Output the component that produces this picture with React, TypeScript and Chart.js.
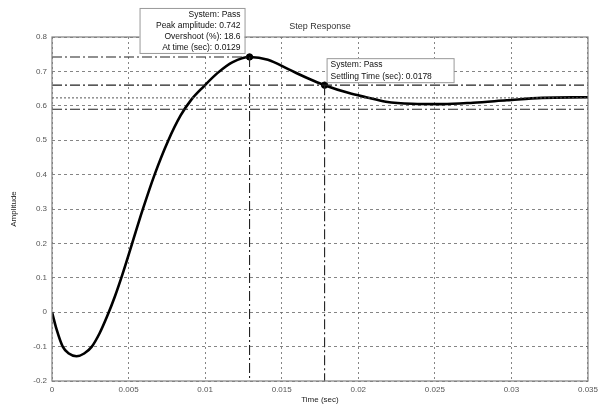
import React, { useEffect, useRef } from 'react';
import { Chart, registerables } from 'chart.js';

Chart.register(...registerables);

// ---- data ----
const timeSec = [
  0, 0.0003, 0.0007, 0.0011, 0.0016, 0.0021, 0.0026, 0.0031, 0.0036, 0.0041,
  0.0046, 0.0052, 0.0059, 0.0067, 0.0076, 0.0084, 0.0091, 0.0099, 0.0108, 0.0118,
  0.0129, 0.0141, 0.0155, 0.0167, 0.0178, 0.0194, 0.0205, 0.0218, 0.0235, 0.0255,
  0.0275, 0.0297, 0.032, 0.035,
];
const amplitude = [
  0, -0.05, -0.1, -0.12, -0.128, -0.12, -0.1, -0.062, -0.012, 0.045,
  0.11, 0.195, 0.295, 0.4, 0.5, 0.572, 0.618, 0.656, 0.695, 0.727,
  0.742, 0.734, 0.705, 0.68, 0.66, 0.637, 0.625, 0.612, 0.606, 0.605,
  0.609, 0.616, 0.623, 0.625,
];
const xTickLabels = ['0', '0.005', '0.01', '0.015', '0.02', '0.025', '0.03', '0.035'];
const yTickLabels = ['-0.2', '-0.1', '0', '0.1', '0.2', '0.3', '0.4', '0.5', '0.6', '0.7', '0.8'];

const chartTitle = 'Step Response';
const systemName = 'Pass';
const peakTime = 0.0129;
const peakAmplitude = 0.742;
const overshootPct = 18.6;
const settlingTime = 0.0178;
const settlingAmplitude = 0.66;
const upperBound = 0.66;
const lowerBound = 0.59;
const steadyState = 0.623;

const xMin = 0;
const xMax = 0.035;
const yMin = -0.2;
const yMax = 0.8;

const FONT = "'Liberation Sans', Arial, Helvetica, sans-serif";
const DASH_DOT = [10, 3, 2, 3];

function labelFor(list: string[], v: number) {
  const found = list.find((s) => Math.abs(parseFloat(s) - v) < 1e-9);
  return found ?? '';
}

const overlayPlugin = {
  id: 'overlay',
  afterDraw(chart: any) {
    const ctx = chart.ctx as CanvasRenderingContext2D;
    const { left, top, right, bottom } = chart.chartArea;
    const xs = chart.scales.x;
    const ys = chart.scales.y;
    ctx.save();
    // frame
    ctx.setLineDash([]);
    ctx.strokeStyle = '#808080';
    ctx.lineWidth = 1.2;
    ctx.strokeRect(left, top, right - left, bottom - top);

    // title centred over the plot area
    ctx.font = `9px ${FONT}`;
    ctx.fillStyle = '#333';
    ctx.textAlign = 'center';
    ctx.textBaseline = 'middle';
    ctx.fillText(chartTitle, (left + right) / 2, top - 10);

    ctx.font = `8.5px ${FONT}`;

    // peak box
    const px = xs.getPixelForValue(peakTime);
    const py = ys.getPixelForValue(peakAmplitude);
    const b1 = { x: px - 110, y: py - 49, w: 105, h: 45 };
    ctx.fillStyle = '#fff';
    ctx.fillRect(b1.x, b1.y, b1.w, b1.h);
    ctx.strokeStyle = '#999';
    ctx.lineWidth = 1;
    ctx.strokeRect(b1.x + 0.5, b1.y + 0.5, b1.w, b1.h);
    const lines1 = [
      `System: ${systemName}`,
      `Peak amplitude: ${peakAmplitude}`,
      `Overshoot (%): ${overshootPct}`,
      `At time (sec): ${peakTime}`,
    ];
    ctx.fillStyle = '#111';
    ctx.textAlign = 'right';
    lines1.forEach((s, i) => ctx.fillText(s, b1.x + b1.w - 4, b1.y + 7 + i * 11));

    // settling box
    const sx = xs.getPixelForValue(settlingTime);
    const sy = ys.getPixelForValue(settlingAmplitude);
    const b2 = { x: sx + 2, y: sy - 27, w: 127, h: 24 };
    ctx.fillStyle = '#fff';
    ctx.fillRect(b2.x, b2.y, b2.w, b2.h);
    ctx.strokeStyle = '#999';
    ctx.strokeRect(b2.x + 0.5, b2.y + 0.5, b2.w, b2.h);
    const lines2 = [`System: ${systemName}`, `Settling Time (sec): ${settlingTime}`];
    ctx.fillStyle = '#111';
    ctx.textAlign = 'left';
    lines2.forEach((s, i) => ctx.fillText(s, b2.x + 4, b2.y + 6 + i * 12));
    ctx.restore();
  },
};

export default function App() {
  const ref = useRef<HTMLCanvasElement | null>(null);

  useEffect(() => {
    document.body.style.margin = '0';
    const canvas = ref.current;
    if (!canvas) return;
    const curve = timeSec.map((t, i) => ({ x: t, y: amplitude[i] }));
    const refLine = (
      pts: { x: number; y: number }[],
      dash: number[],
      color = '#222',
      width = 1.1,
    ) => ({
      data: pts,
      showLine: true,
      borderColor: color,
      borderWidth: width,
      borderDash: dash,
      pointRadius: 0,
      fill: false,
    });
    const chart = new Chart(canvas, {
      type: 'scatter',
      data: {
        datasets: [
          refLine([{ x: xMin, y: steadyState }, { x: xMax, y: steadyState }], [2, 2], '#555', 1),
          refLine([{ x: xMin, y: upperBound }, { x: xMax, y: upperBound }], DASH_DOT),
          refLine([{ x: xMin, y: lowerBound }, { x: xMax, y: lowerBound }], DASH_DOT),
          refLine([{ x: xMin, y: peakAmplitude }, { x: peakTime, y: peakAmplitude }], DASH_DOT),
          refLine([{ x: peakTime, y: peakAmplitude }, { x: peakTime, y: yMin }], DASH_DOT),
          refLine([{ x: settlingTime, y: settlingAmplitude }, { x: settlingTime, y: yMin }], DASH_DOT),
          {
            data: curve,
            showLine: true,
            borderColor: '#000',
            borderWidth: 2.6,
            pointRadius: 0,
            cubicInterpolationMode: 'monotone',
            fill: false,
          } as any,
          {
            data: [
              { x: peakTime, y: peakAmplitude },
              { x: settlingTime, y: settlingAmplitude },
            ],
            showLine: false,
            pointRadius: 3.2,
            pointBackgroundColor: '#000',
            pointBorderColor: '#000',
          },
        ],
      },
      options: {
        responsive: false,
        animation: false,
        devicePixelRatio: 1,
        layout: { padding: { left: 0, right: 10, top: 37, bottom: 2 } },
        plugins: {
          legend: { display: false },
          tooltip: { enabled: false },
          title: { display: false },
        },
        scales: {
          x: {
            type: 'linear',
            min: xMin,
            max: xMax,
            afterFit: (s: any) => {
              s.height = 24;
            },
            ticks: {
              stepSize: 0.005,
              padding: 4,
              maxRotation: 0,
              autoSkip: false,
              color: '#555',
              font: { family: FONT, size: 8 },
              callback: (v: any) => labelFor(xTickLabels, Number(v)),
            },
            grid: { color: '#666', lineWidth: 0.8, drawTicks: false },
            border: { display: false, dash: [2, 3] },
            title: {
              display: true,
              text: 'Time (sec)',
              color: '#222',
              font: { family: FONT, size: 8 },
              padding: { top: 0, bottom: 0 },
            },
          },
          y: {
            type: 'linear',
            min: yMin,
            max: yMax,
            afterFit: (s: any) => {
              s.width = 52;
            },
            ticks: {
              stepSize: 0.1,
              padding: 5,
              autoSkip: false,
              color: '#555',
              font: { family: FONT, size: 8 },
              callback: (v: any) => labelFor(yTickLabels, Number(v)),
            },
            grid: { color: '#666', lineWidth: 0.8, drawTicks: false },
            border: { display: false, dash: [3, 3] },
            title: {
              display: true,
              text: 'Amplitude',
              color: '#222',
              font: { family: FONT, size: 8 },
              padding: { top: 9, bottom: 0 },
            },
          },
        },
      },
      plugins: [overlayPlugin],
    } as any);
    return () => chart.destroy();
  }, []);

  return <canvas ref={ref} width={602} height={407} style={{ display: 'block' }} />;
}
